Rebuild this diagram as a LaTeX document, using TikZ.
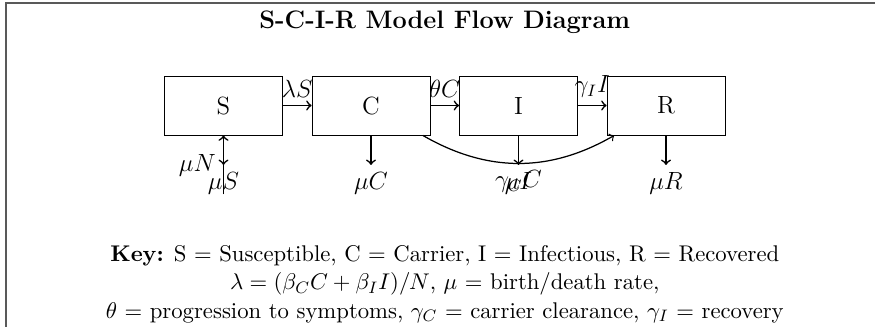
\documentclass[tikz,border=0pt]{standalone}
\usetikzlibrary{calc}
\begin{document}
\begin{tikzpicture}[
  box/.style={draw, minimum width=2cm, minimum height=1cm, inner sep=0pt, font=\fontsize{12}{14}\selectfont},
  flow/.style={->, thick},
  lbl/.style={font=\fontsize{12}{14}\selectfont},
  framestyle/.style={draw=black!65, line width=1pt}
]
\useasboundingbox (-3.788,-3.754) rectangle (11.042,1.788);
\draw[framestyle] (-3.686,-6) -- (-3.686,1.737) -- (12,1.737);

\node[font=\fontsize{12.2}{15}\selectfont\bfseries] (title) at (3.75,1.41) {S-C-I-R Model Flow Diagram};

\node[box] (S) at (0,0) {S};
\node[box] (C) at (2.5,0) {C};
\node[box] (I) at (5,0) {I};
\node[box] (R) at (7.5,0) {R};

\coordinate (Sin) at ($(S.south)+(0,-1)$);
\coordinate (Sout) at ($(S.south)+(0,-0.5)$);
\coordinate (Cout) at ($(C.south)+(0,-0.5)$);
\coordinate (Iout) at ($(I.south)+(0,-0.5)$);
\coordinate (Rout) at ($(R.south)+(0,-0.5)$);

\draw[flow] (S) -- node[lbl, above] {$\lambda S$} (C);
\draw[flow] (C) -- node[lbl, above] {$\theta C$} (I);
\draw[flow] (I) -- node[lbl, above] {$\gamma_I I$} (R);

\draw[flow] (Sin) -- node[lbl, left] {$\mu N$} (S.south);
\draw[flow] (S.south) -- (Sout) node[lbl, below] {$\mu S$};
\draw[flow] (C.south) -- (Cout) node[lbl, below] {$\mu C$};
\draw[flow] (I.south) -- (Iout) node[lbl, below] {$\mu I$};
\draw[flow] (R.south) -- (Rout) node[lbl, below] {$\mu R$};
\draw[->, semithick] (C) to[bend right=30] node[lbl, below] {$\gamma_C C$} (R);

\node[align=center, font=\fontsize{10.95}{13.6}\selectfont] (key) at (3.75,-3.03) {\textbf{Key:} S = Susceptible, C = Carrier, I = Infectious, R = Recovered\\
$\lambda = (\beta_C C + \beta_I I)/N$, $\mu$ = birth/death rate,\\
$\theta$ = progression to symptoms, $\gamma_C$ = carrier clearance, $\gamma_I$ = recovery};
\end{tikzpicture}
\end{document}
